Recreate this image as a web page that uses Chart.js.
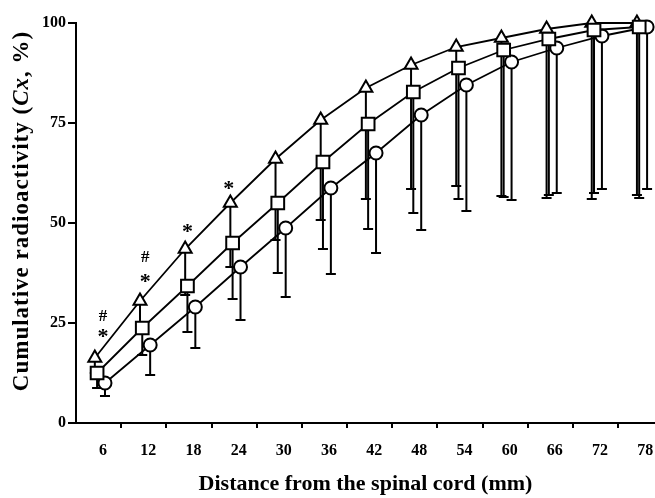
<!DOCTYPE html>
<html>
  <head>
    <title>Cumulative radioactivity</title>
    <script src="https://cdn.jsdelivr.net/npm/chart.js@4"></script>
    <style>
      html, body { margin: 0; padding: 0; background: #fff; overflow: hidden; }
      #wrap { position: relative; width: 655px; height: 498px; }
      #graph { display: block; }
    </style>
  </head>
  <body>
    <div id="wrap"><canvas id="graph"></canvas></div>
    <script>
      // Values (Cx, %), lower SD ends shown as one-sided bars
      const distances = [6, 12, 18, 24, 30, 36, 42, 48, 54, 60, 66, 72, 78]

      const triangleMean = [16.25, 30.5, 43.5, 55, 66, 75.75, 83.75, 89.5, 94, 96.25, 98.5, 100, 100]
      const triangleLow = [12.5, 24, 32, 39, 45.75, 50.75, 56, 58.5, 59.25, 56.75, 56.25, 56, 57]

      const squareMean = [12.5, 23.75, 34.25, 45, 55, 65.25, 74.75, 82.75, 88.75, 93.25, 96, 98.25, 99]
      const squareLow = [8.75, 17, 22.75, 31, 37.5, 43.5, 48.5, 52.5, 56, 56.5, 57, 57.5, 56.25]

      const circleMean = [10, 19.5, 29, 39, 48.75, 58.75, 67.5, 77, 84.5, 90.25, 93.75, 96.75, 99]
      const circleLow = [6.75, 12, 18.75, 25.75, 31.5, 37.25, 42.5, 48.25, 53, 55.75, 57.5, 58.5, 58.5]

      // significance marks above the triangle series
      const markDistance = [6, 6, 11.6, 11.6, 17.2, 22.7]
      const markValue = [26.5, 22.5, 41.25, 36.25, 48.75, 59.5]
      const markText = ["#", "*", "#", "*", "*", "*"]

      const yTicks = [0, 25, 50, 75, 100]

      const serif = "'Liberation Serif', 'Times New Roman', serif"
      const xMin = 2.4
      const xMax = 79.3

      function series(label, mean, low, style, radius, shift) {
        return {
          label: label,
          data: distances.map((d, i) => ({ x: d + shift, y: mean[i], low: low[i] })),
          borderColor: "#000",
          borderWidth: 1.8,
          backgroundColor: "#fff",
          pointStyle: style,
          pointRadius: radius,
          pointHoverRadius: radius,
          pointBorderWidth: 2,
          pointBackgroundColor: "#fff",
          pointBorderColor: "#000",
          tension: 0,
          fill: false,
          clip: false,
        }
      }

      const errorBars = {
        id: "errorBars",
        beforeDatasetsDraw(chart) {
          const { ctx, scales: { x, y } } = chart
          ctx.save()
          ctx.strokeStyle = "#000"
          ctx.lineWidth = 2
          chart.data.datasets.forEach(ds => {
            ds.data.forEach(p => {
              const px = x.getPixelForValue(p.x)
              const top = y.getPixelForValue(p.y)
              const bottom = y.getPixelForValue(p.low)
              ctx.beginPath()
              ctx.moveTo(px, top)
              ctx.lineTo(px, bottom)
              ctx.moveTo(px - 5, bottom)
              ctx.lineTo(px + 5, bottom)
              ctx.stroke()
            })
          })
          ctx.restore()
        }
      }

      const marks = {
        id: "marks",
        afterDatasetsDraw(chart) {
          const { ctx, scales: { x, y } } = chart
          ctx.save()
          ctx.fillStyle = "#000"
          ctx.textAlign = "center"
          ctx.textBaseline = "middle"
          markText.forEach((t, i) => {
            ctx.font = t === "*" ? `bold 22px ${serif}` : `bold 17px ${serif}`
            const dy = t === "*" ? 4 : 0
            ctx.fillText(t, x.getPixelForValue(markDistance[i]), y.getPixelForValue(markValue[i]) + dy)
          })
          ctx.restore()
        }
      }

      // y title with the italic symbol
      const yTitle = {
        id: "yTitle",
        afterDraw(chart) {
          const { ctx } = chart
          const parts = [
            ["Cumulative radioactivity (", `bold 23px ${serif}`],
            ["Cx", `italic bold 23px ${serif}`],
            [", %)", `bold 23px ${serif}`],
          ]
          ctx.save()
          ctx.letterSpacing = "1px"
          let total = 0
          parts.forEach(p => { ctx.font = p[1]; total += ctx.measureText(p[0]).width })
          ctx.translate(22, 211)
          ctx.rotate(-Math.PI / 2)
          ctx.fillStyle = "#000"
          ctx.textBaseline = "middle"
          let pos = -total / 2
          parts.forEach(p => {
            ctx.font = p[1]
            ctx.fillText(p[0], pos, 0)
            pos += ctx.measureText(p[0]).width
          })
          ctx.restore()
        }
      }

      const tickFont = { family: serif, size: 16, weight: "bold" }

      new Chart(document.getElementById("graph"), {
        type: "line",
        data: {
          datasets: [
            series("Square", squareMean, squareLow, "rect", 9, -0.8),
            series("Triangle", triangleMean, triangleLow, "triangle", 7.5, -1.1),
            series("Circle", circleMean, circleLow, "circle", 6.5, 0.25),
          ],
        },
        options: {
          responsive: true,
          maintainAspectRatio: false,
          animation: false,
          layout: { autoPadding: false, padding: { top: 23, right: 0, bottom: 0, left: 0 } },
          plugins: {
            legend: { display: false },
            tooltip: { enabled: false },
          },
          scales: {
            x: {
              type: "linear",
              min: xMin,
              max: xMax,
              position: "bottom",
              afterBuildTicks: s => { s.ticks = distances.map(v => ({ value: v })) },
              // invisible tick marks only push the labels down
              grid: { display: true, drawOnChartArea: false, drawTicks: true, tickLength: 17, color: "rgba(0,0,0,0)" },
              border: { display: true, color: "#000", width: 2 },
              ticks: { color: "#000", font: tickFont, padding: 1 },
              title: {
                display: true,
                text: "Distance from the spinal cord (mm)",
                color: "#000",
                font: { family: serif, size: 22, weight: "bold" },
                padding: { top: 0, bottom: 0 },
              },
              afterFit: s => { s.height = 75 },
            },
            xMarks: {
              type: "linear",
              min: xMin,
              max: xMax,
              position: "bottom",
              weight: -1,
              afterBuildTicks: s => { s.ticks = distances.slice(0, -1).map(v => ({ value: v + 2.4 })) },
              grid: { drawOnChartArea: false, drawTicks: true, tickLength: 5, color: "#000", lineWidth: 2 },
              border: { display: false },
              ticks: { display: false },
              afterFit: s => { s.height = 0 },
            },
            y: {
              min: 0,
              max: 100,
              afterBuildTicks: s => { s.ticks = yTicks.map(v => ({ value: v })) },
              grid: { drawOnChartArea: false, drawTicks: true, tickLength: 8, color: "#000", lineWidth: 2 },
              border: { color: "#000", width: 2 },
              ticks: { color: "#000", font: tickFont, padding: 2 },
              afterFit: s => { s.width = 76 },
            },
          },
        },
        plugins: [errorBars, marks, yTitle],
      })
    </script>
  </body>
</html>
